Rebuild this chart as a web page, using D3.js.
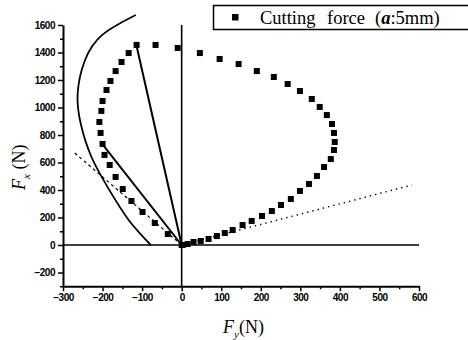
<!DOCTYPE html>
<html>
<head>
<meta charset="utf-8">
<script src="https://cdn.jsdelivr.net/npm/d3@7"></script>
<style>
  html, body { margin: 0; padding: 0; background: #fff; }
  svg { display: block; }
</style>
</head>
<body>
<svg id="chart" width="468" height="340"></svg>
<script>
// Measured cutting force trajectory (Fy, Fx) in N, a = 5 mm
const forceFy = [0, -35, -68, -99, -127, -149, -167, -182, -195, -200, -205, -208, -203, -200, -190, -180, -167, -152, -134, -114,
  -66, -10, 46, 96, 144, 190, 233, 268, 299, 329, 349, 367, 380, 385, 387, 385, 377, 360, 342, 322, 299, 276,
  251, 228, 203, 177, 154, 129, 109, 89, 68, 48, 30, 15, 3];
const forceFx = [0, 80, 160, 240, 320, 407, 495, 582, 655, 735, 815, 895, 975, 1047, 1127, 1193, 1265, 1331, 1396, 1455,
  1455, 1433, 1396, 1353, 1316, 1265, 1222, 1171, 1120, 1062, 1004, 945, 880, 815, 749, 691, 625, 567, 502, 444, 393, 335,
  291, 247, 211, 175, 145, 109, 87, 65, 44, 29, 22, 7, 0];

// Outer envelope curve
const envelopeFy = [-116, -200, -245, -263, -255, -228, -185, -134, -78];
const envelopeFx = [1673, 1530, 1340, 1100, 880, 640, 410, 182, 0];

// Straight reference rays from the origin: [Fy, Fx] end points
const raySolidA = [-115, 1460];
const raySolidB = [-205, 750];
const rayDashed = [-273, 676];
const rayDotted = [582, 436];

const xTicks = [-300, -200, -100, 0, 100, 200, 300, 400, 500, 600];
const xMinor = [-250, -150, -50, 50, 150, 250, 350, 450, 550];
const yTicks = [-200, 0, 200, 400, 600, 800, 1000, 1200, 1400, 1600];
const yMinor = [-300, -100, 100, 300, 500, 700, 900, 1100, 1300, 1500];

const svg = d3.select("#chart");
const x = d3.scaleLinear().domain([-300, 600]).range([63, 419]);
const y = d3.scaleLinear().domain([-300, 1600]).range([286.25, 25]);

// Axes
svg.append("g").attr("transform", `translate(0,${y(-300)})`)
  .call(d3.axisBottom(x).tickValues(xTicks).tickSize(5).tickSizeOuter(0).tickPadding(3).tickFormat(d3.format("d")));
svg.append("g").attr("transform", `translate(0,${y(-300)})`)
  .call(d3.axisBottom(x).tickValues(xMinor).tickSize(3).tickFormat(""))
  .call(g => g.select(".domain").remove());
svg.append("g").attr("transform", `translate(${x(-300)},0)`)
  .call(d3.axisLeft(y).tickValues(yTicks).tickSize(5).tickSizeOuter(0).tickPadding(3).tickFormat(d3.format("d")));
svg.append("g").attr("transform", `translate(${x(-300)},0)`)
  .call(d3.axisLeft(y).tickValues(yMinor).tickSize(3).tickFormat(""))
  .call(g => g.select(".domain").remove());
svg.selectAll(".domain").attr("stroke", "#000").attr("stroke-width", 2);
svg.selectAll(".tick line").attr("stroke", "#000").attr("stroke-width", 1.5);
svg.selectAll(".tick text").attr("fill", "#000")
  .style("font-family", "'Liberation Sans', Arial, sans-serif")
  .style("font-weight", "bold").style("font-size", "10px").style("letter-spacing", "-0.5px");

// Zero lines
svg.append("line").attr("x1", x(-300)).attr("x2", x(600)).attr("y1", y(0)).attr("y2", y(0))
  .attr("stroke", "#000").attr("stroke-width", 1.6);
svg.append("line").attr("x1", x(0)).attr("x2", x(0)).attr("y1", y(1600)).attr("y2", y(-300))
  .attr("stroke", "#000").attr("stroke-width", 1.6);

// Envelope curve
const env = envelopeFy.map((v, i) => [v, envelopeFx[i]]);
svg.append("path").datum(env)
  .attr("d", d3.line().x(d => x(d[0])).y(d => y(d[1])).curve(d3.curveNatural))
  .attr("fill", "none").attr("stroke", "#000").attr("stroke-width", 1.8);

// Rays
function ray(end, dash, width) {
  svg.append("line").attr("x1", x(0)).attr("y1", y(0)).attr("x2", x(end[0])).attr("y2", y(end[1]))
    .attr("stroke", "#000").attr("stroke-width", width).attr("stroke-dasharray", dash);
}
ray(raySolidA, null, 2);
ray(raySolidB, null, 2);
ray(rayDashed, "3,3", 1.2);
ray(rayDotted, "1.4,4", 1.4);

// Data markers
const pts = forceFy.map((v, i) => [v, forceFx[i]]);
svg.append("g").selectAll("rect").data(pts).join("rect")
  .attr("x", d => x(d[0]) - 3).attr("y", d => y(d[1]) - 3)
  .attr("width", 6).attr("height", 6).attr("fill", "#000");

// Legend
const serif = "'Liberation Serif', 'Times New Roman', serif";
const lg = svg.append("g");
lg.append("rect").attr("x", 213.5).attr("y", 5.5).attr("width", 270).attr("height", 24)
  .attr("fill", "#fff").attr("stroke", "#000").attr("stroke-width", 1.5);
lg.append("rect").attr("x", 232).attr("y", 14).attr("width", 6.5).attr("height", 6.5).attr("fill", "#000");
const lt = lg.append("text").attr("y", 24)
  .attr("font-family", serif).attr("font-size", 18.5).attr("fill", "#000");
lt.append("tspan").attr("x", 260).text("Cutting");
lt.append("tspan").attr("x", 327).text("force");
lt.append("tspan").attr("x", 375).text("(");
lt.append("tspan").attr("font-weight", "bold").attr("font-style", "italic").text("a");
lt.append("tspan").text(":5mm)");

// Axis titles
const xt = svg.append("text").attr("x", 223).attr("y", 333)
  .attr("font-family", serif).attr("font-size", 18).attr("fill", "#000");
xt.append("tspan").attr("font-style", "italic").text("F");
xt.append("tspan").attr("font-style", "italic").attr("font-size", 11).attr("dy", 5).text("y");
xt.append("tspan").attr("dy", -5).text("(N)");

const yt = svg.append("text").attr("transform", "translate(25,190) rotate(-90)")
  .attr("font-family", serif).attr("font-size", 18).attr("fill", "#000");
yt.append("tspan").attr("font-style", "italic").text("F");
yt.append("tspan").attr("font-style", "italic").attr("font-size", 11).attr("dy", 5).text("x");
yt.append("tspan").attr("dy", -5).text(" (N)");
</script>
</body>
</html>
